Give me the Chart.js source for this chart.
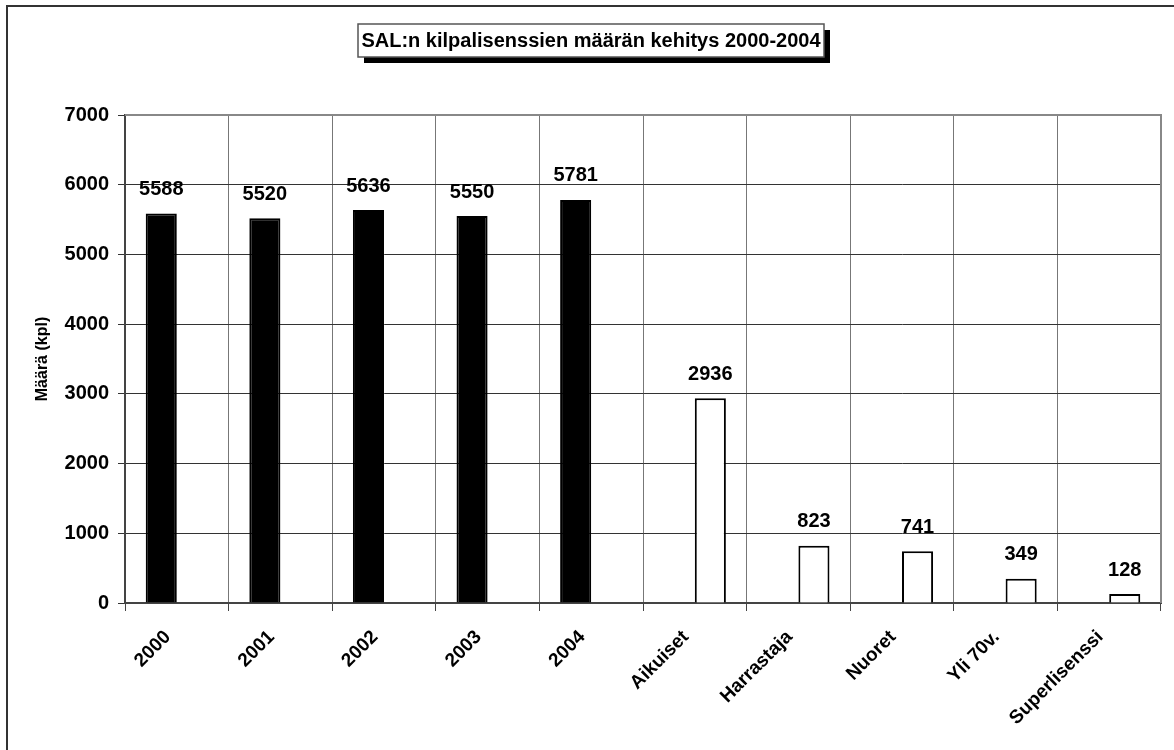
<!DOCTYPE html>
<html>
<head>
<meta charset="utf-8">
<script src="https://cdn.jsdelivr.net/npm/chart.js@4/dist/chart.umd.min.js"></script>
<style>
  html, body { margin: 0; padding: 0; background: #fff; }
  #wrap { position: relative; width: 1174px; height: 750px; }
</style>
</head>
<body>
<div id="wrap"><canvas id="chart" width="1174" height="750"></canvas></div>
<script>
const categories = ['2000', '2001', '2002', '2003', '2004', 'Aikuiset', 'Harrastaja', 'Nuoret', 'Yli 70v.', 'Superlisenssi'];
const yearValues = [5588, 5520, 5636, 5550, 5781];
const groupValues = [2936, 823, 741, 349, 128];
const yTicks = [0, 1000, 2000, 3000, 4000, 5000, 6000, 7000];
const chartTitle = 'SAL:n kilpalisenssien määrän kehitys 2000-2004';
const yTitle = 'Määrä (kpl)';

const FONT = '"Liberation Sans", Arial, sans-serif';

// kaksi sarjaa vierekkäin, tyhjät paikat nullina
const yearSeries = categories.map((c, i) => i < yearValues.length ? yearValues[i] : null);
const groupSeries = categories.map((c, i) => i >= yearValues.length ? groupValues[i - yearValues.length] : null);

// kehys, otsikkolaatikko ja arvot palkkien päälle
const decorations = {
    id: 'decorations',
    beforeDraw(chart) {
        const ctx = chart.ctx;
        ctx.save();
        ctx.strokeStyle = '#333';
        ctx.lineWidth = 2;
        ctx.beginPath();
        ctx.moveTo(7, 760);
        ctx.lineTo(7, 6);
        ctx.lineTo(1180, 6);
        ctx.stroke();
        ctx.restore();
    },
    afterDraw(chart) {
        const ctx = chart.ctx;
        const a = chart.chartArea;
        ctx.save();
        ctx.strokeStyle = '#888';
        ctx.lineWidth = 2;
        ctx.beginPath();
        ctx.moveTo(a.left, a.top);
        ctx.lineTo(a.right, a.top);
        ctx.lineTo(a.right, a.bottom);
        ctx.stroke();

        // otsikko varjolla
        ctx.font = 'bold 20px ' + FONT;
        const w = 466;
        const cx = 591, x0 = cx - w / 2, y0 = 24, h = 33;
        ctx.fillStyle = '#000';
        ctx.fillRect(x0 + 6, y0 + 6, w, h);
        ctx.fillStyle = '#fff';
        ctx.fillRect(x0, y0, w, h);
        ctx.strokeStyle = '#555';
        ctx.lineWidth = 1.5;
        ctx.strokeRect(x0, y0, w, h);
        ctx.fillStyle = '#000';
        ctx.textAlign = 'center';
        ctx.textBaseline = 'middle';
        ctx.fillText(chartTitle, cx, y0 + h / 2 + 1);
        ctx.restore();
    },
    afterDatasetsDraw(chart) {
        const ctx = chart.ctx;
        ctx.save();
        ctx.font = 'bold 20px ' + FONT;
        ctx.fillStyle = '#000';
        ctx.textAlign = 'center';
        ctx.textBaseline = 'middle';
        chart.data.datasets.forEach((ds, d) => {
            chart.getDatasetMeta(d).data.forEach((bar, i) => {
                if (ds.data[i] == null) return;
                ctx.fillText(String(ds.data[i]), bar.x, bar.y - 24);
            });
        });
        ctx.restore();
    }
};

new Chart(document.getElementById('chart'), {
    type: 'bar',
    data: {
        labels: categories,
        datasets: [{
            data: yearSeries,
            backgroundColor: '#000',
            borderColor: '#000',
            borderWidth: 2,
            barPercentage: 1,
            categoryPercentage: 0.6
        }, {
            data: groupSeries,
            backgroundColor: '#fff',
            borderColor: '#000',
            borderWidth: 2,
            barPercentage: 1,
            categoryPercentage: 0.6
        }]
    },
    options: {
        responsive: false,
        animation: false,
        events: [],
        layout: { padding: { left: 0, right: 13, top: 115, bottom: 0 } },
        plugins: {
            legend: { display: false },
            tooltip: { enabled: false }
        },
        scales: {
            x: {
                afterFit(scale) { scale.height = 147; },
                grid: { color: '#777', lineWidth: 1, offset: true, tickLength: 8, tickColor: '#444' },
                border: { color: '#444', width: 2 },
                ticks: {
                    color: '#000',
                    font: { family: FONT, size: 19, weight: 'bold' },
                    minRotation: 45,
                    maxRotation: 45,
                    autoSkip: false,
                    padding: 15,
                    labelOffset: -9
                }
            },
            y: {
                min: 0,
                max: 7000,
                afterBuildTicks(scale) {
                    scale.ticks = yTicks.map(v => ({ value: v }));
                },
                afterFit(scale) { scale.width = 125; },
                grid: { color: '#333', lineWidth: 1, tickLength: 7, tickColor: '#333' },
                border: { color: '#444', width: 2 },
                ticks: {
                    color: '#000',
                    font: { family: FONT, size: 20, weight: 'bold' },
                    padding: 9,
                    callback: v => String(v)
                },
                title: {
                    display: true,
                    text: yTitle,
                    color: '#000',
                    font: { family: FONT, size: 16, weight: 'bold' },
                    padding: { top: 33, bottom: 0 }
                }
            }
        }
    },
    plugins: [decorations]
});
</script>
</body>
</html>
